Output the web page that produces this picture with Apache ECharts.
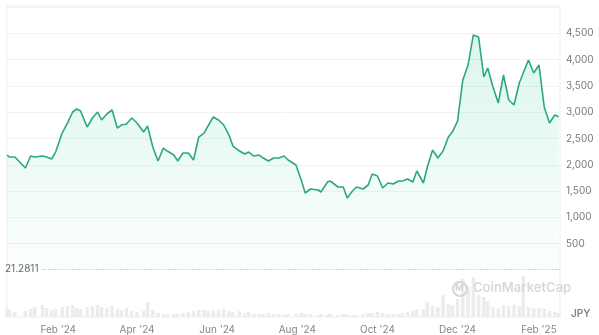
<!DOCTYPE html>
<html>
<head>
<meta charset="utf-8">
<script src="https://cdn.jsdelivr.net/npm/echarts@6/dist/echarts.min.js"></script>
<style>
html,body{margin:0;padding:0;background:#fff;}
#chart{width:599px;height:335px;}
</style>
</head>
<body>
<div id="chart"></div>
<script>
const dates = [
'2023-12-24','2023-12-26','2023-12-30','2024-01-07','2024-01-11','2024-01-14','2024-01-20','2024-01-23','2024-01-27','2024-01-30',
'2024-02-04','2024-02-08','2024-02-12','2024-02-15','2024-02-18','2024-02-23','2024-02-27','2024-03-02','2024-03-05','2024-03-09',
'2024-03-13','2024-03-17','2024-03-20','2024-03-24','2024-03-28','2024-04-01','2024-04-06','2024-04-09','2024-04-13','2024-04-17',
'2024-04-21','2024-04-24','2024-04-29','2024-05-02','2024-05-06','2024-05-10','2024-05-14','2024-05-18','2024-05-22','2024-05-25',
'2024-05-29','2024-06-02','2024-06-06','2024-06-10','2024-06-13','2024-06-18','2024-06-22','2024-06-25','2024-06-29','2024-07-03',
'2024-07-06','2024-07-10','2024-07-14','2024-07-18','2024-07-22','2024-07-25','2024-07-31','2024-08-04','2024-08-07','2024-08-11',
'2024-08-17','2024-08-19','2024-08-24','2024-08-26','2024-09-01','2024-09-05','2024-09-08','2024-09-12','2024-09-15','2024-09-20',
'2024-09-24','2024-09-27','2024-10-01','2024-10-05','2024-10-09','2024-10-13','2024-10-17','2024-10-20','2024-10-24','2024-10-28',
'2024-10-31','2024-11-05','2024-11-08','2024-11-12','2024-11-16','2024-11-20','2024-11-24','2024-11-27','2024-12-01','2024-12-05',
'2024-12-09','2024-12-13','2024-12-17','2024-12-21','2024-12-24','2024-12-28','2025-01-01','2025-01-05','2025-01-09','2025-01-13',
'2025-01-17','2025-01-20','2025-01-24','2025-01-28','2025-02-01','2025-02-05','2025-02-09','2025-02-13','2025-02-16'
];
const prices = [
2186,2148,2148,1939,2167,2148,2167,2148,2110,2243,
2604,2794,3004,3061,3023,2718,2890,3004,2852,2966,
3042,2699,2756,2776,2890,2794,2623,2737,2338,2072,
2319,2262,2186,2072,2224,2224,2091,2528,2604,2737,
2909,2852,2756,2566,2357,2262,2205,2243,2167,2186,
2129,2072,2129,2129,2167,2091,1996,1711,1464,1540,
1521,1483,1673,1692,1578,1578,1369,1502,1578,1540,
1616,1825,1787,1559,1654,1635,1692,1692,1730,1673,
1882,1654,1958,2281,2129,2262,2528,2623,2832,3612,
3897,4467,4429,3669,3840,3479,3175,3707,3232,3137,
3555,3745,3992,3745,3897,3099,2794,2947,2915
];
const volumes = [
9,7,5,6,8,10,12,9,7,8,
10,11,12,9,8,10,11,12,10,9,
11,8,7,9,6,5,6,15,7,4,
3,3,3,3,4,5,6,7,7,6,
7,7,8,6,5,6,4,5,3,3,
3,4,3,3,2,3,3,4,3,3,
2,3,2,3,2,3,3,2,2,3,
4,4,5,4,3,3,3,4,5,6,
8,8,15,11,10,22,13,12,18,38,
30,40,22,20,16,10,9,12,11,12,
11,41,10,9,9,8,6,5,4
];
const monthTicks = ['2024-02-01','2024-04-01','2024-06-01','2024-08-01','2024-10-01','2024-12-01','2025-02-01'];
const yTicks = [500,1000,1500,2000,2500,3000,3500,4000,4500];
const lowValue = 21.2811;
const lowLineFrom = '2024-01-20';
const currentPrice = 2915;
const xMin = '2023-12-24';
const xMax = '2025-02-17';
const currency = 'JPY';

const monthNames = ['Jan','Feb','Mar','Apr','May','Jun','Jul','Aug','Sep','Oct','Nov','Dec'];
function ts(s){ const p = s.split('-').map(Number); return Date.UTC(p[0], p[1]-1, p[2]); }
const priceData = dates.map((d,i)=>[ts(d), prices[i]]);
const volData = dates.map((d,i)=>[ts(d), volumes[i]]);
const FONT = 'Inter, "Noto Sans", sans-serif';

const chart = echarts.init(document.getElementById('chart'), null, {renderer:'canvas'});
chart.setOption({
  animation:false,
  backgroundColor:'#fff',
  grid:[
    {left:7, right:39, top:7, height:263},
    {left:7, right:39, top:275, height:42}
  ],
  xAxis:[
    {type:'value', gridIndex:0, min:ts(xMin), max:ts(xMax), show:false, splitLine:{show:false}},
    {type:'value', gridIndex:1, min:ts(xMin), max:ts(xMax),
     axisLine:{show:false}, axisTick:{show:false}, splitLine:{show:false},
     axisLabel:{
       customValues: monthTicks.map(ts),
       margin:8, fontSize:10, color:'#858585', fontFamily:FONT, showMinLabel:true, showMaxLabel:true,
       formatter:function(v){ const d=new Date(v); return monthNames[d.getUTCMonth()] + " '" + String(d.getUTCFullYear()).slice(2); }
     }}
  ],
  yAxis:[
    {type:'value', gridIndex:0, min:0, max:5000, interval:500, position:'right',
     axisLine:{show:false}, axisTick:{show:false},
     splitLine:{showMinLine:false, lineStyle:{color:'#f2f2f2', width:1}},
     axisLabel:{
       margin:6, fontSize:10, color:'#7a7a7a', fontFamily:FONT,
       formatter:function(v){ return yTicks.indexOf(v)>=0 ? v.toLocaleString('en-US') : ''; }
     }},
    {type:'value', gridIndex:1, min:0, max:42, show:false}
  ],
  graphic:[
    {type:'rect', z:-1, silent:true, shape:{x:7,y:6,width:553,height:311}, style:{fill:'none', stroke:'#efefef', lineWidth:1}},
    {type:'text', left:571, top:309, style:{text:currency, fontSize:10, fontWeight:600, fill:'#808080', fontFamily:FONT}},
    {type:'circle', shape:{cx:460, cy:289, r:7}, style:{fill:'none', stroke:'#d6d6d6', lineWidth:2}, z:10},
    {type:'text', left:455, top:284, style:{text:'M', fontSize:9, fontWeight:700, fill:'#d6d6d6', fontFamily:FONT}, z:10},
    {type:'text', left:473, top:282, style:{text:'CoinMarketCap', fontSize:13, fontWeight:600, fill:'#d8d8d8', fontFamily:FONT}, z:10}
  ],
  series:[
    {
      type:'line', xAxisIndex:0, yAxisIndex:0, data:priceData,
      showSymbol:false, symbol:'none',
      lineStyle:{color:'#2ba97b', width:1.6},
      areaStyle:{color:new echarts.graphic.LinearGradient(0,0,0,1,[
        {offset:0, color:'rgba(22,199,132,0.22)'},
        {offset:1, color:'rgba(22,199,132,0.02)'}
      ])},
      markLine:{
        silent:true, symbol:['none','none'],
        data:[
          [
            {coord:[ts(lowLineFrom), lowValue], lineStyle:{type:[1,2], color:'#a8a8a8', width:1},
             label:{show:true, position:'start', formatter:String(lowValue), fontSize:10, color:'#666', fontFamily:FONT, distance:4}},
            {coord:[ts(xMax), lowValue]}
          ],
          {yAxis:currentPrice, lineStyle:{opacity:0},
           label:{show:true, position:'end', formatter:currentPrice.toLocaleString('en-US'),
                  backgroundColor:'#16c784', color:'#fff', fontSize:10, fontFamily:FONT,
                  padding:[4,3,3,3], borderRadius:3, distance:1}}
        ]
      }
    },
    {
      type:'bar', xAxisIndex:1, yAxisIndex:1, data:volData,
      barWidth:3.5, itemStyle:{color:'#ececef'}
    }
  ]
});
</script>
</body>
</html>
